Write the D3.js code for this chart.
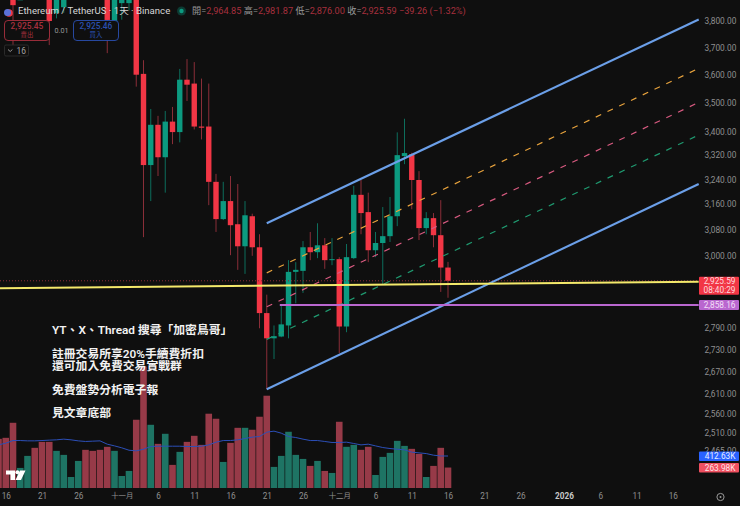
<!DOCTYPE html>
<html><head><meta charset="utf-8">
<script src="https://cdn.jsdelivr.net/npm/d3@7"></script>
<style>
html,body{margin:0;padding:0;background:#0f0f0f;overflow:hidden}
svg{display:block}
text{font-family:Roboto,"Noto Sans CJK TC",sans-serif}
</style></head><body><svg id="c" width="740" height="506"></svg>
<script>
// One entry per day, from 15 Oct (index 0) to 16 Dec (index 62)
const opens=[4030,3960,4000,3880,3900,4000,3930,3950,3831,3853,3960,4000,4130,4120,4080,3980,3796,3869,3869,3990,3603,3287,3423,3313,3434,3398,3582,3568,3417,3417,3232,3113,3170,3097,3029,3122,3026,2832,2761,2766,2797,2952,2955,3026,3011,3032,2987,2990,2794,2993,3190,3135,3017,3039,3060,3122,3317,3323,3238,3085,3116,3063,2964.85];
const highs=[4120,4010,4040,3980,3980,4060,3960,3990,3950,4000,4030,4080,4180,4170,4110,4030,3960,3950,4000,4020,3653,3478,3454,3471,3485,3621,3657,3646,3586,3568,3258,3232,3251,3225,3170,3130,3066,2885,2797,2855,2987,2981,3045,3073,3100,3054,3054,2996,3036,3219,3238,3197,3073,3151,3183,3397,3444,3328,3267,3135,3132,3173,2981.87];
const lows=[3920,3900,3709,3885,3885,3890,3885,3709,3810,3831,3920,3960,4050,4030,3950,3679,3766,3805,3840,3557,3057,3170,3251,3197,3357,3363,3506,3407,3373,3157,3073,3110,3002,2958,2946,3000,2789,2623,2704,2764,2761,2860,2890,2987,2993,2961,2972,2720,2778,2990,3066,2981,2996,2914,3042,3091,3290,3144,3048,3066,3026,2893,2876];
const closes=[3960,3930,3861,3940,3960,3920,3895,3800,3930,3980,4010,4060,4070,4060,3990,3804,3900,3930,3960,3600,3287,3423,3313,3434,3398,3582,3564,3417,3413,3232,3113,3170,3094,3029,3125,3026,2832,2761,2767,2800,2952,2958,3026,3011,3032,2987,2990,2794,2996,3190,3132,3017,3039,3060,3122,3320,3327,3238,3085,3116,3063,2964.85,2925.59];
const volumes=[634,647,841,259,414,518,595,595,479,427,142,349,492,479,492,531,479,155,220,880,1566,815,569,699,298,466,595,673,556,958,893,336,582,776,776,751,919,1190,272,414,725,427,375,285,349,220,194,854,531,556,492,531,168,401,453,608,543,505,440,142,285,518,263.98];
const volumeMA=[556,578,612,612,608,608,612,617,621,630,621,608,600,604,608,565,543,518,487,479,500,535,539,539,539,539,535,535,539,556,591,612,612,621,638,656,664,720,733,707,664,651,630,612,612,600,587,587,591,574,556,565,543,522,509,500,492,462,453,444,423,413,412.63];

const priceTicks=[3800,3700,3600,3500,3400,3320,3240,3160,3080,3000,2790,2730,2670,2610,2560,2510,2465];
const dayTickIndex=[1,6,11,17,22,27,32,37,42,47,52,57,62,67,72,78,83,88,93];
const dayTickLabels=["16","21","26","十一月","6","11","16","21","26","十二月","6","11","16","21","26","2026","6","11","16"];

// Drawn lines: start and end day index, start and end price
const channelLines=[
 {d0:37,d1:96.58,p0:3100,p1:3806,color:"#6b9fe8",w:2.1},
 {d0:37,d1:96.58,p0:2623,p1:3225,color:"#6b9fe8",w:2.1},
 {d0:37,d1:96.58,p0:2949,p1:3623,color:"#e8a33d",w:1.2,dash:"6 7"},
 {d0:37,d1:96.58,p0:2850,p1:3501,color:"#d85a80",w:1.2,dash:"6 7"},
 {d0:37,d1:96.58,p0:2758,p1:3388,color:"#1f9a70",w:1.2,dash:"6 7"},
];
const levelLines=[
 {d0:0,d1:96.58,p0:2904,p1:2923,color:"#f4e96b",w:2},
 {d0:38.8,d1:96.58,p0:2855,p1:2855,color:"#b967cf",w:2},
];
const noteLines=[
 ["YT、X、Thread 搜尋「加密鳥哥」",330],
 ["註冊交易所享20%手續費折扣",353.7],
 ["還可加入免費交易實戰群",366.2],
 ["免費盤勢分析電子報",390],
 ["見文章底部",413],
];

const BG="#0f0f0f",UP="#0c9a80",DOWN="#f23645";
const svg=d3.select("#c");
svg.append("rect").attr("width",740).attr("height",506).attr("fill",BG);
const x=d3.scaleLinear().domain([1,62]).range([5.75,448]);
const y=d3.scaleLog().domain([2510,3800]).range([433,21]);
const v=d3.scaleLinear().domain([0,412.63]).range([488,456]);
const idx=d3.range(opens.length);
const isUp=i=>closes[i]>=opens[i];

// price axis first, so the volume flags cover the lowest label
const ya=svg.append("g").attr("transform","translate(704.5,0)")
 .call(d3.axisRight(y).tickValues(priceTicks).tickFormat(d3.format(",.2f")).tickSize(0).tickPadding(0));
ya.select(".domain").remove();
ya.selectAll("text").attr("fill","#8f8f8f").attr("font-size",8.3);

// volume
svg.append("g").selectAll("rect").data(idx).join("rect")
 .attr("x",i=>x(i)-3.3).attr("width",6.6)
 .attr("y",i=>v(volumes[i])).attr("height",i=>v(0)-v(volumes[i]))
 .attr("fill",i=>isUp(i)?"#1e7464":"#973a48");
svg.append("path").datum(idx)
 .attr("d",d3.line().x(i=>x(i)).y(i=>v(volumeMA[i])))
 .attr("fill","none").attr("stroke","#2c4fb8").attr("stroke-width",1);

// candles
const g=svg.append("g");
g.selectAll("line").data(idx).join("line")
 .attr("x1",x).attr("x2",x).attr("y1",i=>y(highs[i])).attr("y2",i=>y(lows[i]))
 .attr("stroke",i=>isUp(i)?"#0d6e5c":"#8a2e38").attr("stroke-width",1);
g.selectAll("rect").data(idx).join("rect")
 .attr("x",i=>x(i)-2.7).attr("width",5.4)
 .attr("y",i=>y(Math.max(opens[i],closes[i])))
 .attr("height",i=>Math.max(1,Math.abs(y(opens[i])-y(closes[i]))))
 .attr("fill",i=>isUp(i)?UP:DOWN);

// current price dotted line
svg.append("line").attr("x1",0).attr("x2",699).attr("y1",y(closes[62])).attr("y2",y(closes[62]))
 .attr("stroke","#8a2e38").attr("stroke-width",1).attr("stroke-dasharray","1 2");

// channel and level lines
svg.append("g").selectAll("line").data(channelLines.concat(levelLines)).join("line")
 .attr("x1",d=>x(d.d0)).attr("x2",d=>x(d.d1)).attr("y1",d=>y(d.p0)).attr("y2",d=>y(d.p1))
 .attr("stroke",d=>d.color).attr("stroke-width",d=>d.w).attr("stroke-dasharray",d=>d.dash||null);

// date axis
const xa=svg.append("g").attr("transform","translate(0,493)")
 .call(d3.axisBottom(x).tickValues(dayTickIndex).tickFormat((d,i)=>dayTickLabels[i]).tickSize(0).tickPadding(0));
xa.select(".domain").remove();
xa.selectAll("text").attr("fill",(d,i)=>dayTickLabels[i]==="2026"?"#c8c8c8":"#8f8f8f")
 .attr("font-size",(d,i)=>dayTickLabels[i].length===3?7.4:8.2).attr("font-weight",(d,i)=>dayTickLabels[i]==="2026"?700:400);

// notes
svg.append("g").selectAll("text").data(noteLines).join("text")
 .attr("x",52).attr("y",d=>d[1]).attr("dy","0.36em").attr("fill","#f2f2f2")
 .attr("font-size",11.8).attr("font-weight",600).text(d=>d[0]);

// price flags
function flag(cy,h,fill,txt,col){
 svg.append("rect").attr("x",699).attr("y",cy-h/2).attr("width",40).attr("height",h).attr("rx",1).attr("fill",fill);
 txt.forEach((t,k)=>svg.append("text").attr("x",735.5).attr("y",cy+(k-(txt.length-1)/2)*9).attr("dy","0.36em")
  .attr("text-anchor","end").attr("font-size",8.3).attr("fill",col).text(t));
}
flag(285.7,18,"#f23645",["2,925.59","08:40:29"],"#ffd9dd");
flag(305,10,"#b967cf",["2,858.16"],"#f3dff7");
flag(456.3,9.6,"#2962ff",["412.63K"],"#e6edff");
flag(467.8,9.6,"#ef5060",["263.98K"],"#ffe3e6");

// header
svg.append("circle").attr("cx",9).attr("cy",13).attr("r",3.8).attr("fill","#f23645");
svg.append("circle").attr("cx",7.5).attr("cy",12.5).attr("r",3.5).attr("fill","#5a72d8");
svg.append("text").attr("x",18).attr("y",11).attr("dy","0.36em").attr("fill","#d6d6d6").attr("font-size",9.6)
 .text("Ethereum / TetherUS · 1天 · Binance");
svg.append("circle").attr("cx",181.5).attr("cy",11).attr("r",4.5).attr("fill","#0d3b33");
svg.append("circle").attr("cx",181.5).attr("cy",11).attr("r",2.2).attr("fill","#0c9a80");
const hdr=svg.append("text").attr("x",192).attr("y",11).attr("dy","0.36em").attr("font-size",9.2);
[["開=","#9a9a9a"],["2,964.85 ","#a8303e"],["高=","#9a9a9a"],["2,981.87 ","#a8303e"],["低=","#9a9a9a"],["2,876.00 ","#a8303e"],["收=","#9a9a9a"],["2,925.59 ","#a8303e"],["−39.26 (−1.32%)","#a8303e"]]
 .forEach(p=>hdr.append("tspan").attr("fill",p[1]).text(p[0]));

// order boxes
function box(bx,w,col,a,b){
 svg.append("rect").attr("x",bx).attr("y",20.5).attr("width",w).attr("height",20).attr("rx",3.5).attr("fill",BG).attr("stroke",col).attr("stroke-width",.9);
 svg.append("text").attr("x",bx+w/2).attr("y",26).attr("dy","0.36em").attr("text-anchor","middle").attr("fill",col).attr("font-size",8.4).attr("font-weight",500).text(a);
 svg.append("text").attr("x",bx+w/2).attr("y",35).attr("dy","0.36em").attr("text-anchor","middle").attr("fill",col).attr("font-size",6.4).text(b);
}
box(4.5,45,"#a8303e","2,925.45","賣出");
box(73.5,45,"#2a4fb0","2,925.46","買入");
svg.append("text").attr("x",61.5).attr("y",30.5).attr("dy","0.36em").attr("text-anchor","middle").attr("fill","#9a9a9a").attr("font-size",7.2).text("0.01");
svg.append("rect").attr("x",4.5).attr("y",45).attr("width",24).attr("height",11).attr("rx",1.5).attr("fill",BG).attr("stroke","#2b2b2b");
svg.append("path").attr("d","M8,49.5l2.2,2l2.2,-2").attr("fill","none").attr("stroke","#a5a5a5").attr("stroke-width",.9);
svg.append("text").attr("x",16.5).attr("y",51).attr("dy","0.36em").attr("fill","#a5a5a5").attr("font-size",8.4).text("16");

// logo and settings
svg.append("path").attr("fill","#fff").attr("d","M6,470.5H15V480H10.5V474.5H6Z M20,470.5H25.5L21,480H15.5Z");
svg.append("circle").attr("cx",17.4).attr("cy",472.3).attr("r",2).attr("fill","#fff");
svg.append("circle").attr("cx",720.5).attr("cy",497).attr("r",3.6).attr("fill","none").attr("stroke","#9a9a9a").attr("stroke-width",1);
svg.append("circle").attr("cx",720.5).attr("cy",497).attr("r",1).attr("fill","#9a9a9a");
</script></body></html>
